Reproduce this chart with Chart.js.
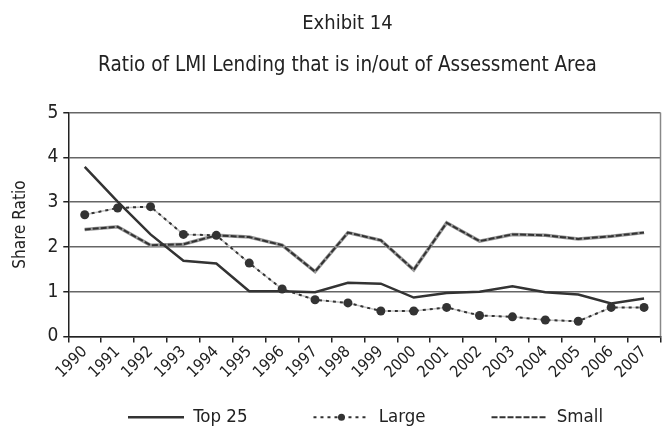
<!DOCTYPE html>
<html>
<head>
<meta charset="utf-8">
<script src="https://cdn.jsdelivr.net/npm/chart.js@4"></script>
<style>
  html, body { margin: 0; padding: 0; background: #fff; }
  #wrap { width: 665px; height: 433px; }
</style>
</head>
<body>
<div id="wrap"><canvas id="lmiChart"></canvas></div>
<script>
const years = ['1990', '1991', '1992', '1993', '1994', '1995', '1996', '1997', '1998', '1999',
               '2000', '2001', '2002', '2003', '2004', '2005', '2006', '2007'];
const top25 = [3.79, 3.01, 2.28, 1.69, 1.63, 1.01, 1.01, 0.99, 1.20, 1.18,
               0.87, 0.97, 1.00, 1.12, 0.99, 0.94, 0.74, 0.85];
const large = [2.72, 2.87, 2.90, 2.28, 2.26, 1.64, 1.06, 0.82, 0.75, 0.57,
               0.57, 0.65, 0.47, 0.44, 0.37, 0.34, 0.65, 0.65];
const small = [2.39, 2.45, 2.04, 2.06, 2.26, 2.22, 2.04, 1.45, 2.32, 2.15,
               1.49, 2.54, 2.13, 2.28, 2.26, 2.18, 2.24, 2.32];
const yTicks = [0, 1, 2, 3, 4, 5];

const FONT = "'Liberation Sans Narrow', 'DejaVu Sans Condensed', 'Arial Narrow', sans-serif";
Chart.defaults.font.family = FONT;
Chart.defaults.color = '#222';

// titles and legend sit off-centre like the original; right frame line; dot in "Large" sample
const extras = {
    id: 'extras',
    afterLayout(chart) {
        chart.boxes.forEach(b => {
            if (b.options && typeof b.options.text === 'string' && b.position === 'top') {
                b.left += 10;
                b.right += 10;
            }
        });
        const lg = chart.legend;
        lg.left += 28;
        lg.right += 28;
        lg.top -= 40;
    },
    afterDraw(chart) {
        const { ctx, chartArea } = chart;
        ctx.save();
        ctx.strokeStyle = '#888';
        ctx.lineWidth = 1.5;
        ctx.beginPath();
        ctx.moveTo(chartArea.right, chartArea.top);
        ctx.lineTo(chartArea.right, chartArea.bottom);
        ctx.stroke();
        const hb = chart.legend.legendHitBoxes[1];
        if (hb) {
            ctx.fillStyle = '#333';
            ctx.beginPath();
            ctx.arc(hb.left + 28, hb.top + hb.height / 2, 3.5, 0, Math.PI * 2);
            ctx.fill();
        }
        ctx.restore();
    }
};

new Chart(document.getElementById('lmiChart'), {
    type: 'line',
    data: {
        labels: years,
        datasets: [{
            label: 'Top 25',
            data: top25,
            borderColor: '#333',
            backgroundColor: '#333',
            borderWidth: 2.5,
            pointRadius: 0,
            tension: 0
        }, {
            label: 'Large',
            data: large,
            borderColor: '#333',
            backgroundColor: '#333',
            borderWidth: 2,
            borderDash: [3, 4],
            pointRadius: 4.5,
            pointBackgroundColor: '#333',
            pointBorderWidth: 0,
            tension: 0
        }, {
            label: 'Large base',
            data: large,
            borderColor: '#c4c4c4',
            borderWidth: 1.5,
            pointRadius: 0,
            tension: 0
        }, {
            label: 'Small',
            data: small,
            borderColor: '#333',
            backgroundColor: '#333',
            borderWidth: 2,
            borderDash: [6, 2],
            pointRadius: 0,
            tension: 0
        }, {
            label: 'Small base',
            data: small,
            borderColor: '#999',
            borderWidth: 3.5,
            pointRadius: 0,
            tension: 0
        }]
    },
    options: {
        responsive: true,
        maintainAspectRatio: false,
        animation: false,
        layout: { padding: { left: 10, right: 0, top: 0, bottom: 4 } },
        plugins: {
            title: {
                display: true,
                text: 'Exhibit 14',
                color: '#222',
                font: { size: 20, weight: 'normal' },
                padding: { top: 12, bottom: 17 }
            },
            subtitle: {
                display: true,
                text: 'Ratio of LMI Lending that is in/out of Assessment Area',
                color: '#222',
                font: { size: 20.5 },
                padding: { top: 0, bottom: 35 }
            },
            legend: {
                position: 'bottom',
                maxHeight: 47,
                labels: {
                    usePointStyle: true,
                    pointStyleWidth: 56,
                    boxHeight: 16,
                    padding: 66,
                    color: '#222',
                    font: { size: 18.5 },
                    generateLabels: chart => chart.data.datasets
                        .map((ds, i) => ({
                            text: ds.label,
                            datasetIndex: i,
                            strokeStyle: ds.borderColor,
                            fillStyle: ds.borderColor,
                            lineWidth: ds.borderWidth,
                            lineDash: ds.borderDash || [],
                            pointStyle: 'line',
                            fontColor: '#222',
                            hidden: false
                        }))
                        .filter(item => !item.text.endsWith('base'))
                }
            },
            tooltip: { enabled: false }
        },
        scales: {
            x: {
                offset: true,
                grid: {
                    offset: true,
                    drawOnChartArea: false,
                    color: '#222',
                    tickLength: 6,
                    lineWidth: 1.5
                },
                border: { color: '#222', width: 1.5 },
                ticks: {
                    minRotation: 45,
                    maxRotation: 45,
                    color: '#222',
                    padding: 0,
                    font: { size: 16 }
                }
            },
            y: {
                min: 0,
                max: 5,
                afterBuildTicks: axis => { axis.ticks = yTicks.map(v => ({ value: v })); },
                grid: {
                    color: '#666',
                    lineWidth: 1.5,
                    tickLength: 5,
                    tickColor: '#222'
                },
                border: { color: '#222', width: 1.5 },
                ticks: {
                    color: '#222',
                    padding: 5,
                    font: { size: 19 }
                },
                title: {
                    display: true,
                    text: 'Share Ratio',
                    color: '#222',
                    font: { size: 17 },
                    padding: { top: 0, bottom: 12 }
                }
            }
        }
    },
    plugins: [extras]
});
</script>
</body>
</html>
